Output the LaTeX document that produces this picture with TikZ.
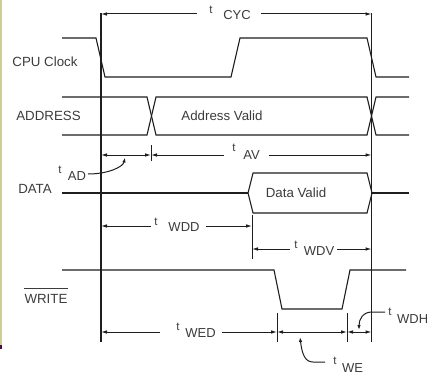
\documentclass[tikz,border=0pt]{standalone}
\usepackage{fontspec}
\setmainfont{Liberation Sans}
\usetikzlibrary{arrows.meta}
\definecolor{olive1}{RGB}{205,205,150}
\definecolor{purp}{RGB}{70,15,70}
\definecolor{ink}{RGB}{30,30,30}
\definecolor{txt}{RGB}{60,60,60}
\begin{document}
\begin{tikzpicture}[x=1pt,y=-1pt,
  sig/.style={line width=1.1pt, draw=ink, line join=miter},
  guide/.style={line width=1.2pt, draw=ink},
  dim/.style={line width=1.0pt, draw=ink},
  arr/.style={-{Latex[length=6pt,width=3.6pt]}},
  dbl/.style={{Latex[length=6pt,width=3.6pt]}-{Latex[length=6pt,width=3.6pt]}},
  ptr/.style={line width=1.0pt, draw=ink, -{Latex[length=5pt,width=3.4pt]}},
  lbl/.style={inner sep=0pt, text=txt, font=\fontsize{13.3}{14}\selectfont},
  tt/.style={inner sep=0pt, text=txt, font=\fontsize{11.5}{12}\selectfont},
  sub/.style={inner sep=0pt, text=txt, font=\fontsize{13}{14}\selectfont},
]
\useasboundingbox (0,0) rectangle (427,374);
\fill[white] (0,0) rectangle (427,374);
% left border of the screenshot
\draw[line width=1.6pt, draw=olive1] (0.8,0) -- (0.8,345);
\draw[line width=1.6pt, draw=purp] (0.8,345) -- (0.8,349);

% vertical reference lines
\coordinate (L0) at (101,13); \coordinate (L1) at (101,342);
\coordinate (R0) at (371.5,13); \coordinate (R1) at (371.5,342);
\draw[guide] (L0) -- (L1);
\draw[guide] (R0) -- (R1);

% signal names
\node[lbl] (nclk) at (45,62) {CPU Clock};
\node[lbl] (nadr) at (48.5,116) {ADDRESS};
\node[lbl] (ndat) at (35,189) {DATA};
\node[lbl] (nwr) at (46,298.5) {WRITE};
\draw[line width=0.9pt, draw=txt] ([yshift=5pt]nwr.north west) -- ([yshift=5pt]nwr.north east);

% CPU clock
\draw[sig] (62,38) -- (96,38) -- (105,77) -- (231,77) -- (240,38) -- (367,38) -- (376,77) -- (409,77);

% Address
\draw[sig] (62,97) -- (147,97) -- (156,135) -- (367,135) -- (376,97) -- (409,97);
\draw[sig] (62,135) -- (147,135) -- (156,97) -- (367,97) -- (376,135) -- (409,135);
\node[lbl] (adv) at (222,116) {Address Valid};

% Data
\draw[sig] (62,193) -- (248,193);
\draw[sig] (248,193) -- (253,173) -- (367,173) -- (372,193) -- (367,213) -- (253,213) -- cycle;
\draw[sig] (372,193) -- (409,193);
\node[lbl] (dav) at (296,193) {Data Valid};

% Write
\draw[sig] (62,270) -- (274,270) -- (282,309) -- (342,309) -- (350,270) -- (406,270);

% tCYC
\node[tt] (tcyc) at (211,10) {t};
\node[sub] (scyc) at (237,15) {CYC};
\coordinate (cycA) at (197,14); \coordinate (cycB) at (261,14);
\draw[dim,arr] (cycA) -- (L0 |- cycA);
\draw[dim,arr] (cycB) -- (R0 |- cycB);

% tAD / tAV
\coordinate (adL) at (101,155); \coordinate (adM) at (151,155);
\draw[line width=1.0pt, draw=ink] (151,145) -- (151,161);
\draw[dim,dbl] (adL) -- (adM);
\coordinate (avA) at (224,155); \coordinate (avB) at (269,155);
\draw[dim,arr] (avA) -- (adM);
\draw[dim,arr] (avB) -- (R0 |- avB);
\node[tt] (tav) at (234,148) {t};
\node[sub] (sav) at (251.5,155) {AV};
\node[tt] (tad) at (60,170) {t};
\node[sub] (sad) at (77,176) {AD};
\draw[ptr] (88,174) .. controls (108,174) and (123,167) .. (125,157.5);

% tWDD / tWDV
\coordinate (wddA) at (151,226); \coordinate (wddB) at (206,226); \coordinate (wddE) at (252,226);
\draw[line width=1.0pt, draw=ink] (252,215) -- (252,259);
\draw[dim,arr] (wddA) -- (L0 |- wddA);
\draw[dim,arr] (wddB) -- (wddE);
\node[tt] (twdd) at (156,222) {t};
\node[sub] (swdd) at (184,227) {WDD};
\coordinate (wdvA) at (290,249); \coordinate (wdvB) at (337,249); \coordinate (wdvS) at (252,249);
\draw[dim,arr] (wdvA) -- (wdvS);
\draw[dim,arr] (wdvB) -- (R0 |- wdvB);
\node[tt] (twdv) at (296,245) {t};
\node[sub] (swdv) at (319,251) {WDV};

% tWED / tWE / tWDH
\coordinate (wedA) at (160,332); \coordinate (wedB) at (222,332);
\coordinate (weL) at (277,332); \coordinate (weR) at (347,332);
\draw[line width=1.0pt, draw=ink] (277,313) -- (277,342);
\draw[line width=1.0pt, draw=ink] (347,313) -- (347,342);
\draw[dim,arr] (wedA) -- (L0 |- wedA);
\draw[dim,arr] (wedB) -- (weL);
\draw[dim,dbl] (weL) -- (weR);
\draw[dim,dbl] (weR) -- (R0 |- weR);
\node[tt] (twed) at (178,327) {t};
\node[sub] (swed) at (200.5,333) {WED};
\node[tt] (twe) at (335,361) {t};
\node[sub] (swe) at (352.5,368) {WE};
\draw[ptr] (325,362) -- (313,362) .. controls (305,362) and (302,354) .. (300,337);
\node[tt] (twdh) at (390,312) {t};
\node[sub, anchor=west] (swdh) at (397,319) {WDH};
\draw[ptr] (385,312) -- (372,312) .. controls (363,312) and (359,319) .. (359,330);
\end{tikzpicture}
\end{document}
